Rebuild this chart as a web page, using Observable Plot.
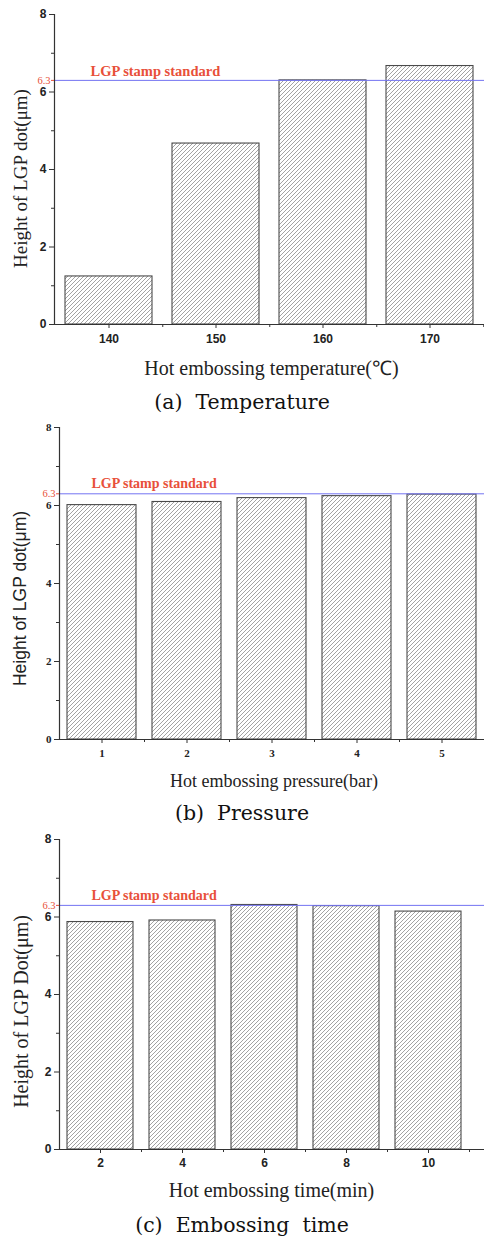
<!DOCTYPE html>
<html><head><meta charset="utf-8">
<script src="https://cdn.jsdelivr.net/npm/d3@7"></script>
<script src="https://cdn.jsdelivr.net/npm/@observablehq/plot@0.6"></script>
<style>
body{margin:0;background:#fff;width:484px;overflow:hidden;}
.cap{font-family:"DejaVu Serif",serif;font-size:20.5px;text-align:center;height:28px;line-height:28px;white-space:pre;color:#111;}
svg{display:block;}
</style></head><body><div id="root"></div>
<script>
const standard = 6.3;
const standardLabel = "LGP stamp standard";
const yMajorTicks = [0, 2, 4, 6, 8];
const yMinorTicks = [1, 3, 5, 7];

const tempCategories = ["140", "150", "160", "170"];
const tempHeights = [1.24, 4.67, 6.30, 6.67];

const pressureCategories = ["1", "2", "3", "4", "5"];
const pressureHeights = [6.01, 6.09, 6.19, 6.24, 6.28];

const timeCategories = ["2", "4", "6", "8", "10"];
const timeHeights = [5.87, 5.91, 6.31, 6.28, 6.14];

const RED = "#e8503a";
const BLUE = "#7474f2";
const INK = "#333";

function hatchDefs(id) {
  return () => {
    const s = d3.create("svg:defs");
    const p = s.append("pattern").attr("id", id).attr("patternUnits", "userSpaceOnUse")
      .attr("width", 4).attr("height", 4);
    p.append("rect").attr("width", 4).attr("height", 4).attr("fill", "#fff");
    p.append("path").attr("d", "M-1,1L1,-1M0,4L4,0M3,5L5,3")
      .attr("stroke", "#8c8c8c").attr("stroke-width", 0.8);
    return s.node();
  };
}

function panel(o) {
  const data = o.cats.map((c, i) => ({cat: c, val: o.vals[i]}));
  const step = (484 - o.marginLeft - o.marginRight) / o.cats.length;
  const tickFont = o.tickFont;
  return Plot.plot({
    width: 484, height: o.height,
    marginTop: o.marginTop, marginBottom: o.marginBottom,
    marginLeft: o.marginLeft, marginRight: o.marginRight,
    x: {domain: o.cats, paddingInner: 0.19, paddingOuter: 0.095, align: 0.5},
    y: {domain: [0, 8]},
    style: {background: "#fff", overflow: "visible"},
    marks: [
      hatchDefs(o.id),
      Plot.barY(data, {x: "cat", y: "val", fill: `url(#${o.id})`, stroke: "#4a4a4a", strokeWidth: 1.1}),
      Plot.ruleY([standard], {stroke: BLUE, strokeWidth: 1, insetRight: -o.marginRight}),
      Plot.ruleY([0], {stroke: INK, strokeWidth: 1.2, insetRight: -o.marginRight}),
      Plot.frame({anchor: "left", stroke: INK, strokeWidth: 1.2}),
      Plot.axisY({ticks: yMajorTicks, tickSize: 5, tickPadding: 3, label: null, stroke: INK,
        fill: "#222", fontWeight: "bold", fontFamily: tickFont, fontSize: o.tickSize}),
      Plot.axisY({ticks: yMinorTicks, tickSize: 3, tickFormat: () => "", label: null, stroke: INK}),
      Plot.axisY({ticks: [standard], tickSize: 3, tickPadding: 1, tickFormat: ".1f", label: null,
        stroke: RED, fill: RED, fontFamily: "Liberation Serif", fontSize: 10.5}),
      Plot.axisX({ticks: o.cats, tickSize: 4, tickPadding: o.xTickPad, label: null, stroke: INK,
        fill: "#222", fontWeight: "bold", fontFamily: tickFont, fontSize: o.tickSize}),
      Plot.axisX({ticks: o.cats, tickSize: 3, tickFormat: () => "", label: null, stroke: INK, dx: step / 2}),
      Plot.text([standardLabel], {text: d => d, y: () => standard, frameAnchor: "left",
        textAnchor: "start", lineAnchor: "middle", dx: o.stdDx, dy: o.stdDy, fill: RED,
        fontWeight: "bold", fontFamily: "Liberation Serif", fontSize: o.stdSize}),
      Plot.text([o.xLabel], {text: d => d, frameAnchor: "bottom", textAnchor: "middle",
        lineAnchor: "middle", dx: o.xLabelDx, dy: o.xLabelDy, fill: "#222",
        fontFamily: o.xLabelFont, fontSize: o.xLabelSize}),
      Plot.text([o.yLabel], {text: d => d, frameAnchor: "left", textAnchor: "middle",
        lineAnchor: "middle", rotate: -90, dx: o.yLabelDx, dy: o.yLabelDy, fill: "#222",
        fontFamily: o.yLabelFont, fontSize: o.yLabelSize})
    ]
  });
}

const root = document.getElementById("root");
function caption(t) {
  const d = document.createElement("div");
  d.className = "cap";
  d.textContent = t;
  return d;
}

root.appendChild(panel({
  id: "hatchA", cats: tempCategories, vals: tempHeights,
  height: 388, marginTop: 14, marginBottom: 64, marginLeft: 54, marginRight: 0,
  tickFont: "Liberation Sans", tickSize: 12, xTickPad: 6,
  stdDx: 36, stdDy: -9, stdSize: 14.5,
  xLabel: "Hot embossing temperature(\u2103)", xLabelFont: "Liberation Serif", xLabelSize: 20,
  xLabelDx: 2, xLabelDy: 44,
  yLabel: "Height of LGP dot(\u03bcm)", yLabelFont: "Liberation Serif", yLabelSize: 19,
  yLabelDx: -34, yLabelDy: 9
}));
root.appendChild(caption("(a)  Temperature"));

root.appendChild(panel({
  id: "hatchB", cats: pressureCategories, vals: pressureHeights,
  height: 383, marginTop: 11, marginBottom: 60, marginLeft: 59, marginRight: 0,
  tickFont: "Liberation Serif", tickSize: 11, xTickPad: 6,
  stdDx: 32, stdDy: -10, stdSize: 14,
  xLabel: "Hot embossing pressure(bar)", xLabelFont: "Liberation Serif", xLabelSize: 18,
  xLabelDx: 2, xLabelDy: 42,
  yLabel: "Height of LGP dot(\u03bcm)", yLabelFont: "Liberation Sans", yLabelSize: 17.5,
  yLabelDx: -39, yLabelDy: 15
}));
root.appendChild(caption("(b)  Pressure"));

root.appendChild(panel({
  id: "hatchC", cats: timeCategories, vals: timeHeights,
  height: 384, marginTop: 12, marginBottom: 62, marginLeft: 59, marginRight: 15,
  tickFont: "Liberation Sans", tickSize: 12, xTickPad: 5,
  stdDx: 32, stdDy: -10, stdSize: 14,
  xLabel: "Hot embossing time(min)", xLabelFont: "Liberation Serif", xLabelSize: 20,
  xLabelDx: 7, xLabelDy: 41,
  yLabel: "Height of LGP Dot(\u03bcm)", yLabelFont: "Liberation Serif", yLabelSize: 20,
  yLabelDx: -38, yLabelDy: 17
}));
root.appendChild(caption("(c)  Embossing  time"));
</script>
</body></html>
